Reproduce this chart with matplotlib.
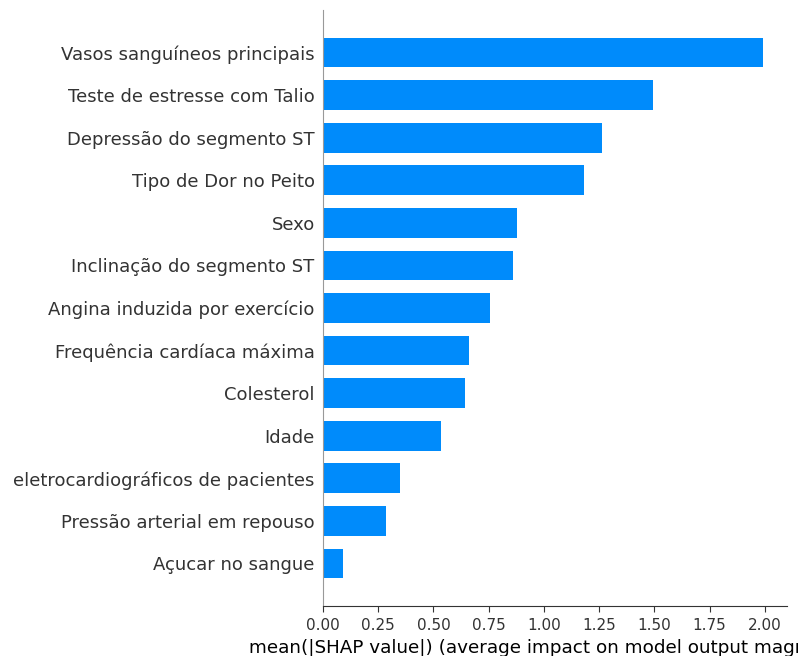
import matplotlib
matplotlib.use("Agg")
import matplotlib.pyplot as plt
import numpy as np

features = [
    "Vasos sanguíneos principais",
    "Teste de estresse com Talio",
    "Depressão do segmento ST",
    "Tipo de Dor no Peito",
    "Sexo",
    "Inclinação do segmento ST",
    "Angina induzida por exercício",
    "Frequência cardíaca máxima",
    "Colesterol",
    "Idade",
    "eletrocardiográficos de pacientes",
    "Pressão arterial em repouso",
    "Açucar no sangue",
]
values = [1.99, 1.495, 1.263, 1.18, 0.879, 0.86, 0.755, 0.66, 0.642, 0.536, 0.35, 0.286, 0.089]
xticks = [0.0, 0.25, 0.5, 0.75, 1.0, 1.25, 1.5, 1.75, 2.0]

fig = plt.figure(figsize=(7.98, 6.56), dpi=100)
ax = fig.add_axes([323/798, 1-606/656, 464/798, 596/656])
n = len(features)
ypos = np.arange(n)[::-1]
ax.barh(ypos, values, 0.7, align="center", color="#008bfb")
ax.set_yticks(ypos)
ax.set_yticklabels(features, fontsize=13, color="#333333")
ax.set_ylim(-1, n)
ax.set_xlim(0, 2.1)
ax.set_xticks(xticks)
ax.set_xticklabels([f"{t:.2f}" for t in xticks], fontsize=11, color="#333333")
ax.tick_params(axis="y", length=0, pad=6)
ax.tick_params(axis="x", color="#333333", labelcolor="#333333", length=4, pad=5)
for s in ["top", "right"]:
    ax.spines[s].set_visible(False)
ax.spines["left"].set_color("#999999")
ax.spines["bottom"].set_color("#333333")
ax.set_xlabel("mean(|SHAP value|) (average impact on model output magnitude)",
              fontsize=13.2, color="black", labelpad=4)
fig.savefig("out.png", dpi=100)
